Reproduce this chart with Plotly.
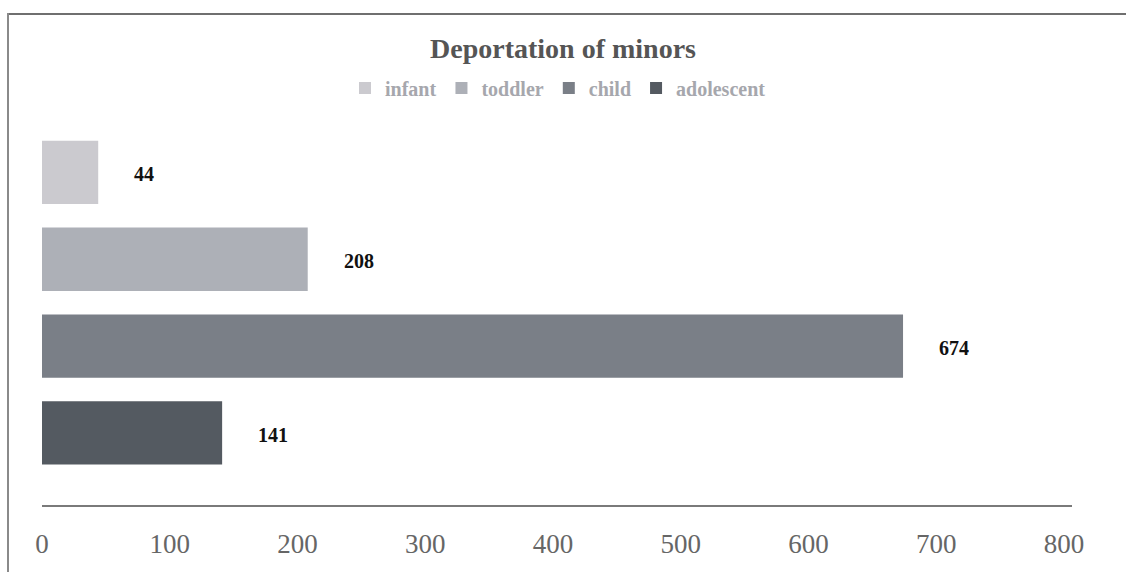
import plotly.graph_objects as go

categories = ["infant", "toddler", "child", "adolescent"]
values = [44, 208, 674, 141]
colors = ["#cbcacf", "#adb0b7", "#7a7f87", "#545a61"]
x_ticks = [0, 100, 200, 300, 400, 500, 600, 700, 800]

FONT = "Liberation Serif"

fig = go.Figure()
for cat, val, col in zip(categories, values, colors):
    fig.add_trace(go.Bar(
        x=[val], y=[cat], orientation="h", name=cat,
        marker=dict(color=col, line=dict(width=0)),
        width=0.73, hoverinfo="x+y",
    ))
    fig.add_annotation(
        x=val, y=cat, text=f"<b>{val}</b>", showarrow=False,
        xanchor="left", xshift=34, yshift=-2,
        font=dict(family=FONT, size=20, color="#111111"),
    )

W, H = 1126, 572
L, R, T, B = 42, 54, 129, 67
pw, ph = W - L - R, H - T - B

def px(xp):
    return (xp - L) / pw

def py(yp):
    return (H - B - yp) / ph

fig.add_shape(type="line", xref="paper", yref="paper",
              x0=px(7), x1=px(W + 2), y0=py(14), y1=py(14),
              line=dict(color="#6f6f6f", width=2))
fig.add_shape(type="line", xref="paper", yref="paper",
              x0=px(8), x1=px(8), y0=py(13), y1=py(H + 2),
              line=dict(color="#8a8a8a", width=2))

fig.update_layout(
    width=W, height=H,
    margin=dict(l=L, r=R, t=T, b=B, pad=0),
    paper_bgcolor="white", plot_bgcolor="white",
    barmode="overlay",
    title=dict(text="<b>Deportation of minors</b>", x=0.5, xanchor="center",
               y=1 - 48 / H, yanchor="middle",
               font=dict(family=FONT, size=28, color="#555555")),
    legend=dict(orientation="h", x=px(558), xanchor="center",
                y=py(88), yanchor="middle",
                font=dict(family=FONT, size=20, color="#a6a7ad", weight="bold"),
                itemclick=False, itemdoubleclick=False, traceorder="normal"),
    showlegend=True,
    xaxis=dict(range=[0, pw / 1.2775], tickvals=x_ticks, showgrid=False,
               zeroline=False, showline=True, linecolor="#7a7a7a", linewidth=1.5,
               ticks="", ticklabelstandoff=14,
               tickfont=dict(family=FONT, size=27, color="#666666")),
    yaxis=dict(categoryorder="array", categoryarray=categories,
               range=[3.83, -0.5], showticklabels=False, showgrid=False,
               zeroline=False, showline=False, ticks=""),
)

fig.write_html("out.html",
               config={"displayModeBar": False},
               post_script="document.body.style.margin='0';document.body.style.overflow='hidden';")
